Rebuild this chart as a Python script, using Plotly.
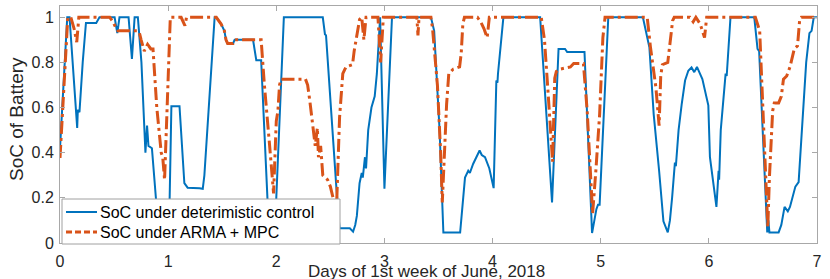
import plotly.graph_objects as go

# ---- data (days, SoC) ----
det_days = [0.0, 0.067, 0.088, 0.159, 0.165, 0.18, 0.21, 0.24, 0.335, 0.365, 0.505, 0.53, 0.55, 0.634, 0.665,
            0.69, 0.72, 0.753, 0.79, 0.805, 0.818, 0.85, 0.89, 0.94, 1.0, 1.014, 1.03, 1.105, 1.15, 1.18,
            1.29, 1.32, 1.335, 1.43, 1.445, 1.49, 1.52, 1.535, 1.55, 1.6, 1.615, 1.785, 1.815, 1.86, 1.92,
            1.95, 1.99, 2.0, 2.07, 2.43, 2.45, 2.46, 2.555, 2.585, 2.68, 2.71, 2.73, 2.745, 2.77, 2.79,
            2.80, 2.82, 2.83, 2.85, 2.88, 2.91, 2.93, 2.96, 3.0, 3.07, 3.43, 3.45, 3.46, 3.51, 3.545,
            3.70, 3.745, 3.775, 3.79, 3.82, 3.84, 3.86, 3.88, 3.90, 3.93, 3.97, 4.01, 4.035, 4.045, 4.05,
            4.10, 4.44, 4.55, 4.61, 4.67, 4.69, 4.85, 4.92, 4.96, 4.975, 4.99, 5.07, 5.39, 5.45, 5.49,
            5.54, 5.58, 5.62, 5.64, 5.66, 5.686, 5.695, 5.72, 5.749, 5.78, 5.81, 5.84, 5.865, 5.89, 5.94,
            5.995, 6.01, 6.04, 6.07, 6.09, 6.095, 6.11, 6.13, 6.155, 6.165, 6.2, 6.42, 6.45, 6.465, 6.54,
            6.55, 6.56, 6.645, 6.67, 6.70, 6.73, 6.75, 6.80, 6.83, 6.86, 6.90, 6.93, 6.95, 6.97, 7.0]
det_soc = [0.42, 1.0, 1.0, 0.51, 0.59, 0.58, 0.80, 0.975, 0.975, 1.0, 1.0, 0.93, 1.0, 1.0, 0.815,
           1.0, 1.0, 0.80, 0.40, 0.52, 0.43, 0.42, 0.18, 0.05, 0.05, 0.2, 0.606, 0.606, 0.265, 0.245,
           0.243, 0.24, 0.30, 1.0, 1.0, 0.97, 0.94, 0.90, 0.884, 0.884, 0.90, 0.90, 0.81, 0.81, 0.18,
           0.05, 0.05, 0.2, 1.0, 1.0, 0.925, 0.92, 0.25, 0.065, 0.065, 0.05, 0.08, 0.12, 0.265, 0.31,
           0.29, 0.38, 0.33, 0.5, 0.6, 0.65, 0.75, 1.0, 0.24, 1.0, 1.0, 0.95, 0.94, 0.5, 0.046,
           0.046, 0.29, 0.32, 0.31, 0.35, 0.37, 0.39, 0.41, 0.39, 0.38, 0.33, 0.243, 0.72, 0.71, 0.75,
           1.0, 1.0, 0.18, 0.86, 0.86, 0.846, 0.846, 0.044, 0.15, 0.17, 0.17, 1.0, 1.0, 0.867, 0.57,
           0.32, 0.096, 0.047, 0.1, 0.2, 0.356, 0.34, 0.5, 0.615, 0.72, 0.763, 0.778, 0.757, 0.78, 0.726,
           0.61, 0.38, 0.27, 0.16, 0.32, 0.28, 0.5, 0.6, 0.75, 0.74, 1.0, 1.0, 0.86, 0.85, 0.047,
           0.10, 0.047, 0.047, 0.08, 0.16, 0.14, 0.16, 0.25, 0.27, 0.5, 0.8, 0.93, 0.94, 1.0, 1.0]

mpc_days = [0.0, 0.072, 0.10, 0.13, 0.155, 0.174, 0.46, 0.49, 0.51, 0.535, 0.72, 0.735, 0.75, 0.78, 0.81,
            0.84, 0.86, 0.895, 0.936, 0.95, 0.967, 1.02, 1.12, 1.155, 1.17, 1.445, 1.49, 1.52, 1.535, 1.55,
            1.6, 1.615, 1.86, 1.89, 1.935, 1.965, 1.975, 2.0, 2.015, 2.03, 2.045, 2.27, 2.29, 2.31, 2.34,
            2.36, 2.38, 2.39, 2.41, 2.43, 2.475, 2.50, 2.52, 2.535, 2.55, 2.56, 2.585, 2.615, 2.645, 2.705,
            2.72, 2.745, 2.77, 2.79, 2.81, 2.83, 2.94, 2.965, 2.99, 3.30, 3.31, 3.32, 3.43, 3.445, 3.49,
            3.52, 3.535, 3.575, 3.595, 3.635, 3.695, 3.71, 3.725, 3.74, 3.86, 3.89, 3.92, 3.95, 3.97, 4.45,
            4.48, 4.51, 4.545, 4.555, 4.575, 4.59, 4.62, 4.72, 4.75, 4.84, 4.875, 4.91, 4.925, 4.955, 4.99,
            5.02, 5.04, 5.43, 5.46, 5.51, 5.54, 5.555, 5.57, 5.62, 5.65, 5.665, 5.68, 5.825, 5.855, 5.88,
            5.92, 5.96, 5.98, 6.43, 6.47, 6.50, 6.53, 6.545, 6.56, 6.575, 6.59, 6.605, 6.645, 6.67, 6.69,
            6.72, 6.75, 6.79, 6.82, 6.84, 6.855, 7.0]
mpc_soc = [0.377, 1.0, 1.0, 0.95, 0.89, 1.0, 1.0, 0.98, 0.96, 0.94, 0.94, 0.93, 0.90, 0.85, 0.88,
           0.86, 0.86, 0.6, 0.40, 0.38, 0.28, 1.0, 1.0, 0.963, 1.0, 1.0, 0.97, 0.94, 0.90, 0.884,
           0.884, 0.90, 0.90, 0.70, 0.45, 0.244, 0.22, 0.54, 0.585, 0.70, 0.726, 0.726, 0.70, 0.63, 0.50,
           0.43, 0.51, 0.38, 0.43, 0.30, 0.28, 0.25, 0.21, 0.18, 0.12, 0.2, 0.555, 0.75, 0.78, 0.79,
           0.85, 0.925, 0.99, 1.0, 0.90, 1.0, 1.0, 0.80, 1.0, 1.0, 0.92, 1.0, 1.0, 0.95, 0.70,
           0.40, 0.18, 0.615, 0.75, 0.77, 0.78, 0.84, 0.97, 1.0, 1.0, 0.98, 0.95, 0.91, 1.0, 1.0,
           0.90, 0.69, 0.42, 0.36, 0.73, 0.76, 0.77, 0.78, 0.795, 0.795, 0.585, 0.23, 0.13, 0.32, 0.57,
           0.91, 1.0, 1.0, 0.867, 0.69, 0.52, 0.74, 0.79, 0.80, 0.91, 0.985, 1.0, 1.0, 0.98, 1.0,
           0.97, 0.91, 1.0, 1.0, 0.94, 0.615, 0.244, 0.07, 0.29, 0.44, 0.585, 0.62, 0.62, 0.65, 0.726,
           0.74, 0.78, 0.86, 0.874, 0.99, 1.0, 1.0]

series_names = ["SoC under deterimistic control", "SoC under ARMA + MPC"]
x_ticks = [0, 1, 2, 3, 4, 5, 6, 7]
y_ticks = [0, 0.2, 0.4, 0.6, 0.8, 1]
y_tick_labels = ["0", "0.2", "0.4", "0.6", "0.8", "1"]

FONT = "Liberation Sans, Arial, Helvetica, sans-serif"
TXT = "#262626"
AX = "#a8a8a8"
BLUE = "#0072BD"
ORANGE = "#D95319"

fig = go.Figure()
fig.add_trace(go.Scatter(x=det_days, y=det_soc, mode="lines", name=series_names[0],
                         line=dict(color=BLUE, width=2)))
fig.add_trace(go.Scatter(x=mpc_days, y=mpc_soc, mode="lines", name=series_names[1],
                         line=dict(color=ORANGE, width=3, dash="13px,4px,3px,4px")))

L, R, T, B = 60, 13, 6, 36
W, H = 830, 279
pw, ph = W - L - R, H - T - B


def px(xp):
    return (xp - L) / pw


def py(yp):
    return (H - B - yp) / ph


axis_common = dict(showline=True, linecolor=AX, linewidth=1, mirror="ticks",
                   ticks="inside", ticklen=5, tickcolor=AX, tickwidth=1,
                   showgrid=False, zeroline=False, automargin=False,
                   tickfont=dict(family=FONT, size=16, color=TXT))

# legend box drawn like MATLAB's (compact), on top of the lines
shapes = [
    dict(type="rect", xref="paper", yref="paper", x0=px(62), x1=px(340), y0=py(244), y1=py(199),
         fillcolor="white", line=dict(color="#a0a0a0", width=1), layer="above"),
    dict(type="line", xref="paper", yref="paper", x0=px(66), x1=px(97), y0=py(212), y1=py(212),
         line=dict(color=BLUE, width=2), layer="above"),
    dict(type="line", xref="paper", yref="paper", x0=px(66), x1=px(97), y0=py(232), y1=py(232),
         line=dict(color=ORANGE, width=3, dash="6px,3px"), layer="above"),
]
annotations = [
    dict(text=series_names[0], xref="paper", yref="paper", x=px(98), y=py(212),
         xanchor="left", yanchor="middle", showarrow=False,
         font=dict(family=FONT, size=16, color="black")),
    dict(text=series_names[1], xref="paper", yref="paper", x=px(98), y=py(232),
         xanchor="left", yanchor="middle", showarrow=False,
         font=dict(family=FONT, size=16, color="black")),
    dict(text="Days of 1st week of June, 2018", xref="paper", yref="paper",
         x=px(426), y=py(271), xanchor="center", yanchor="middle", showarrow=False,
         font=dict(family=FONT, size=17, color=TXT)),
    dict(text="SoC of Battery", xref="paper", yref="paper",
         x=px(17), y=py(119), textangle=-90, xanchor="center", yanchor="middle",
         showarrow=False, font=dict(family=FONT, size=19, color=TXT)),
]

fig.update_layout(
    width=W, height=H,
    margin=dict(l=L, r=R, t=T, b=B, pad=0, autoexpand=False),
    paper_bgcolor="white", plot_bgcolor="white",
    font=dict(family=FONT, color=TXT),
    xaxis=dict(range=[0, 7], tickvals=x_ticks, ticklabelstandoff=4, **axis_common),
    yaxis=dict(range=[0, 1.05], tickvals=y_ticks, ticktext=y_tick_labels,
               ticklabelstandoff=2, **axis_common),
    showlegend=False,
    shapes=shapes,
    annotations=annotations,
)

fig.write_html("out.html", config={"displayModeBar": False},
               post_script="document.body.style.margin='0';document.body.style.overflow='hidden';")
